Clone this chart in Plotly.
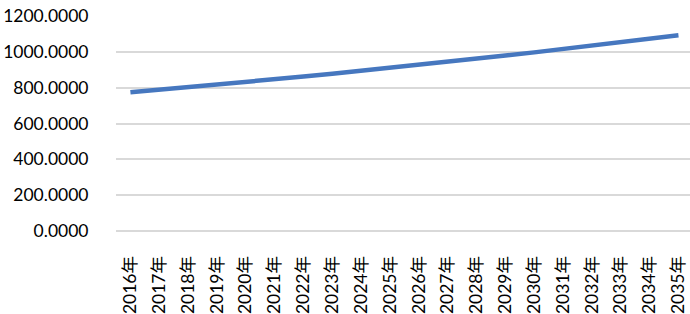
import plotly.graph_objects as go

years = [f"{y}年" for y in range(2016, 2036)]
values = [774, 788, 802, 817, 832, 847, 862, 878, 894, 910,
          927, 944, 962, 979, 997, 1015, 1034, 1053, 1072, 1092]
y_ticks = [0, 200, 400, 600, 800, 1000, 1200]

FONT = "Lato, 'Noto Sans CJK SC', sans-serif"

fig = go.Figure()
fig.add_trace(go.Scatter(
    x=years, y=values, mode="lines",
    line=dict(color="#4677BF", width=4.5),
    showlegend=False, hoverinfo="x+y",
))

fig.update_layout(
    width=690, height=314,
    margin=dict(l=116, r=0, t=16, b=83, autoexpand=False),
    paper_bgcolor="white", plot_bgcolor="white",
    font=dict(family=FONT, size=17.5, color="#000000"),
)
fig.update_xaxes(
    type="category", range=[-0.5, 19.4], automargin=False,
    tickangle=-90, showgrid=False, showline=False, zeroline=False,
    ticks="outside", ticklen=17, tickcolor="rgba(0,0,0,0)",
    tickfont=dict(size=17.5, family=FONT),
)
fig.update_yaxes(
    range=[0, 1200], tickvals=y_ticks, tickformat=".4f", automargin=False,
    showgrid=True, gridcolor="#d9d9d9", gridwidth=1.5,
    zeroline=True, zerolinecolor="#d9d9d9", zerolinewidth=1.5,
    showline=False,
    ticks="outside", ticklen=23, tickcolor="rgba(0,0,0,0)",
    tickfont=dict(size=17.5, family=FONT),
)

fig.write_html(
    "out.html",
    config={"displayModeBar": False},
    post_script="document.body.style.margin='0';",
)
